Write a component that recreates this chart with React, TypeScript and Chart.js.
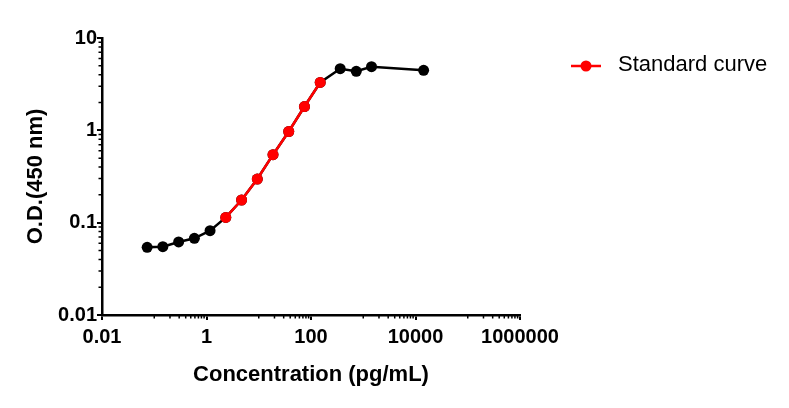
import React, { useEffect, useRef } from 'react';
import { Chart, registerables } from 'chart.js';

Chart.register(...registerables);

// Data
const concentrations = [0.0732, 0.146, 0.293, 0.586, 1.17, 2.34, 4.69, 9.38, 18.75, 37.5, 75, 150, 362, 735, 1440, 14300];
const odValues = [0.0541, 0.0549, 0.0618, 0.0677, 0.0818, 0.114, 0.176, 0.297, 0.545, 0.971, 1.81, 3.3, 4.65, 4.36, 4.89, 4.47];
const standardStartIndex = 5;
const standardEndIndex = 11;
const xTickValues = [0.01, 1, 100, 10000, 1000000];
const yTickValues = [0.01, 0.1, 1, 10];
const xMinorDecades = [-1, 1, 3, 5];
const yMinorDecades = [-2, -1, 0];
const seriesLabel = 'Standard curve';

const FONT = '"Liberation Sans", Arial, Helvetica, sans-serif';

const minorTicksPlugin = {
  id: 'minorTicks',
  afterDraw(chart: any) {
    const ctx = chart.ctx;
    const xs = chart.scales.x;
    const ys = chart.scales.y;
    const area = chart.chartArea;
    ctx.save();
    ctx.strokeStyle = '#000';
    ctx.lineWidth = 1.5;
    ctx.beginPath();
    xMinorDecades.forEach((d) => {
      for (let k = 1; k <= 9; k++) {
        const v = k * Math.pow(10, d);
        const px = xs.getPixelForValue(v);
        ctx.moveTo(px, area.bottom);
        ctx.lineTo(px, area.bottom + 3.5);
      }
    });
    yMinorDecades.forEach((d) => {
      for (let k = 2; k <= 9; k++) {
        const v = k * Math.pow(10, d);
        const py = ys.getPixelForValue(v);
        ctx.moveTo(area.left, py);
        ctx.lineTo(area.left - 3.5, py);
      }
    });
    ctx.stroke();
    ctx.restore();
  },
};

const sideLegendPlugin = {
  id: 'sideLegend',
  afterDraw(chart: any) {
    const ds = chart.data.datasets[0];
    const ctx = chart.ctx;
    const area = chart.chartArea;
    const x0 = area.right + 51;
    const y = area.top + 28;
    ctx.save();
    ctx.strokeStyle = ds.borderColor;
    ctx.lineWidth = 2.5;
    ctx.beginPath();
    ctx.moveTo(x0, y);
    ctx.lineTo(x0 + 30, y);
    ctx.stroke();
    ctx.fillStyle = ds.pointBackgroundColor;
    ctx.beginPath();
    ctx.arc(x0 + 15, y, 5.5, 0, Math.PI * 2);
    ctx.fill();
    ctx.fillStyle = '#000';
    ctx.font = `22px ${FONT}`;
    ctx.textBaseline = 'middle';
    ctx.textAlign = 'left';
    ctx.fillText(ds.label, x0 + 47, y - 1);
    ctx.restore();
  },
};

export default function App() {
  const canvasRef = useRef<HTMLCanvasElement | null>(null);

  useEffect(() => {
    document.body.style.margin = '0';
    const canvas = canvasRef.current;
    if (!canvas) return;

    const allPoints = concentrations.map((x, i) => ({ x, y: odValues[i] }));
    const standardPoints = allPoints.slice(standardStartIndex, standardEndIndex + 1);

    const chart = new Chart(canvas, {
      type: 'scatter',
      data: {
        datasets: [
          {
            label: seriesLabel,
            data: standardPoints,
            showLine: true,
            borderColor: '#ff0000',
            backgroundColor: '#ff0000',
            pointBackgroundColor: '#ff0000',
            pointBorderColor: '#ff0000',
            borderWidth: 2.5,
            pointRadius: 5.5,
            pointHoverRadius: 5.5,
            pointBorderWidth: 0,
          },
          {
            label: 'All points',
            data: allPoints,
            showLine: true,
            borderColor: '#000000',
            backgroundColor: '#000000',
            pointBackgroundColor: '#000000',
            pointBorderColor: '#000000',
            borderWidth: 2.5,
            pointRadius: 5.5,
            pointHoverRadius: 5.5,
            pointBorderWidth: 0,
          },
        ],
      },
      options: {
        responsive: false,
        animation: false,
        layout: { padding: { left: 0, top: 38, right: 269, bottom: 0 } },
        plugins: {
          legend: { display: false },
          tooltip: { enabled: false },
        },
        scales: {
          x: {
            type: 'logarithmic',
            min: 0.01,
            max: 1000000,
            afterBuildTicks: (s: any) => {
              s.ticks = xTickValues.map((v) => ({ value: v }));
            },
            afterFit: (s: any) => {
              s.height = 93;
            },
            ticks: {
              autoSkip: false,
              maxRotation: 0,
              minRotation: 0,
              padding: 5,
              color: '#000',
              font: { family: FONT, size: 20, weight: 'bold' },
              callback: (v: any) => String(v),
            },
            grid: {
              drawOnChartArea: false,
              drawTicks: true,
              tickLength: 5,
              color: '#000',
              lineWidth: 2,
            },
            border: { display: true, color: '#000', width: 2.5 },
            title: {
              display: true,
              text: 'Concentration (pg/mL)',
              color: '#000',
              font: { family: FONT, size: 22, weight: 'bold' },
              padding: { top: 0, bottom: 20 },
            },
          },
          y: {
            type: 'logarithmic',
            min: 0.01,
            max: 10,
            afterBuildTicks: (s: any) => {
              s.ticks = yTickValues.map((v) => ({ value: v }));
            },
            afterFit: (s: any) => {
              s.width = 102;
            },
            ticks: {
              autoSkip: false,
              padding: 0,
              color: '#000',
              font: { family: FONT, size: 20, weight: 'bold' },
              callback: (v: any) => String(v),
            },
            grid: {
              drawOnChartArea: false,
              drawTicks: true,
              tickLength: 5,
              color: '#000',
              lineWidth: 2,
            },
            border: { display: true, color: '#000', width: 2.5 },
            title: {
              display: true,
              text: 'O.D.(450 nm)',
              color: '#000',
              font: { family: FONT, size: 22, weight: 'bold' },
              padding: { top: 23, bottom: 0 },
            },
          },
        },
      } as any,
      plugins: [minorTicksPlugin, sideLegendPlugin],
    });

    return () => {
      chart.destroy();
    };
  }, []);

  return (
    <div style={{ width: 789, height: 408 }}>
      <canvas ref={canvasRef} width={789} height={408} />
    </div>
  );
}
